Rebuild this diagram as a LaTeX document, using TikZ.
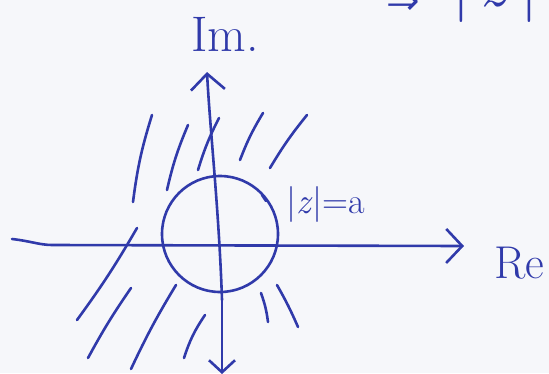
\documentclass[tikz,border=0pt]{standalone}
\usepackage{fontspec}
\newfontfamily\symfont{DejaVu Sans}
\usetikzlibrary{arrows.meta}
\definecolor{pen}{RGB}{48,58,170}
\definecolor{paper}{RGB}{246,247,250}
\begin{document}
\begin{tikzpicture}[x=1pt,y=-1pt,
  ink/.style={draw=pen,line width=2.6pt,line cap=round,line join=round},
  barb/.style={-{Straight Barb[length=16pt,width=34pt,line width=2.6pt]}},
  lbl/.style={text=pen,inner sep=0pt}]
\useasboundingbox[fill=paper] (0,0) rectangle (549,373);
% coordinates
\coordinate (xl) at (12,239);
\coordinate (xb) at (52,245);
\coordinate (xr) at (464,246);
\coordinate (yt) at (207,72);
\coordinate (yb) at (222,374);
\coordinate (c) at (220,234);
% axes
\draw[ink,barb] (xl) .. controls (30,241) and (40,245) .. (xb) -- (xr);
\draw[ink,barb] (222,300) .. controls (219,210) and (210,130) .. (yt);
\draw[ink,-{Straight Barb[length=12pt,width=26pt,line width=2.6pt]}] (222,300) -- (yb);
% circle |z|=a
\draw[ink] (c) circle (58);
\draw[ink] (262,195) -- (266,201);
% hatching outside the circle
\draw[ink] (152,115) to[bend right=5] (133,202);
\draw[ink] (188,125) to[bend right=5] (167,190);
\draw[ink] (219,118) to[bend right=5] (198,170);
\draw[ink] (263,113) to[bend right=5] (240,160);
\draw[ink] (307,115) to[bend right=4] (270,168);
\draw[ink] (137,228) to[bend left=3] (77,320);
\draw[ink] (131,288) to[bend right=3] (88,358);
\draw[ink] (176,285) to[bend right=3] (131,369);
\draw[ink] (205,315) to[bend right=8] (184,358);
\draw[ink] (261,293) to[bend left=6] (268,322);
\draw[ink] (277,285) to[bend left=3] (298,327);
% labels
\node[lbl,font=\fontsize{50}{60}\selectfont,anchor=base west] (im) at (191,51) {Im.};
\node[lbl,font=\fontsize{46}{54}\selectfont,anchor=base west] (re) at (494,278) {Re};
\node[lbl,font=\fontsize{36}{42}\selectfont,anchor=base west] (za) at (286,213) {|\textit{z}|=a};
\node[lbl,font=\symfont\fontsize{40}{48}\selectfont,anchor=base west] (imp) at (386,14) {⇒};
\node[lbl,font=\fontsize{64}{72}\selectfont,anchor=base west] (zz) at (452,6) {|\,\textit{z}\,|};
\end{tikzpicture}
\end{document}
